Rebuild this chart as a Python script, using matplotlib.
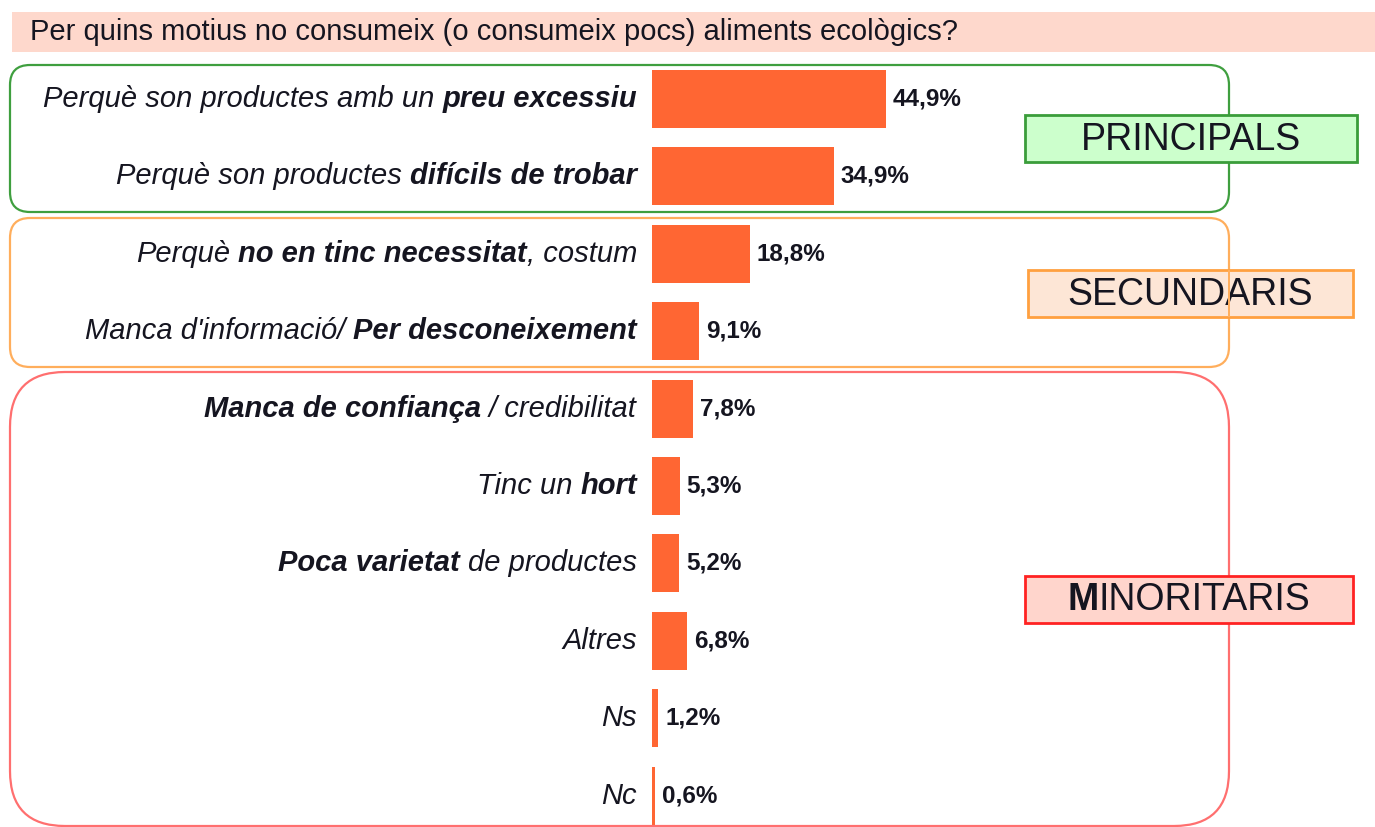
import matplotlib
matplotlib.use("Agg")
import matplotlib.pyplot as plt
from matplotlib.patches import FancyBboxPatch, Rectangle
from matplotlib.transforms import Affine2D

# data
reasons = [
    [("Perquè son productes amb un ", "i"), ("preu excessiu", "b")],
    [("Perquè son productes ", "i"), ("difícils de trobar", "b")],
    [("Perquè ", "i"), ("no en tinc necessitat", "b"), (", costum", "i")],
    [("Manca d'informació/ ", "i"), ("Per desconeixement", "b")],
    [("Manca de confiança", "b"), (" / credibilitat", "i")],
    [("Tinc un ", "i"), ("hort", "b")],
    [("Poca varietat", "b"), (" de productes", "i")],
    [("Altres", "i")],
    [("Ns", "i")],
    [("Nc", "i")],
]
percent = [44.9, 34.9, 18.8, 9.1, 7.8, 5.3, 5.2, 6.8, 1.2, 0.6]
value_labels = ["44,9%", "34,9%", "18,8%", "9,1%", "7,8%", "5,3%", "5,2%", "6,8%", "1,2%", "0,6%"]
title = "Per quins motius no consumeix (o consumeix pocs) aliments ecològics?"
groups = ["PRINCIPALS", "SECUNDARIS", "MINORITARIS"]

W, H = 1375, 827
plt.rcParams["font.family"] = ["Liberation Sans", "DejaVu Sans"]
TXT = "#151520"
BAR = "#ff6633"

fig = plt.figure(figsize=(W / 100, H / 100), dpi=100)
renderer = fig.canvas.get_renderer()
# pixel coords measured from the top-left corner
pix = Affine2D().scale(1, -1).translate(0, H)

# title band
fig.patches.append(Rectangle((12, 12), W - 12, 40, transform=pix, facecolor="#fed8cc",
                             edgecolor="none", zorder=0))
fig.text(30 / W, 1 - 32 / H, title, fontsize=21, color=TXT, va="center", ha="left")

# rounded group frames
frames = [
    ((10, 65, 1219, 147), 20, "#3f9f3f"),
    ((10, 218, 1219, 149), 20, "#ffae5c"),
    ((10, 372, 1219, 454), 55, "#ff6f6f"),
]
for (x, y, w, h), r, col in frames:
    fig.patches.append(FancyBboxPatch((x, y), w, h, boxstyle="round,pad=0,rounding_size=%d" % r,
                                      transform=pix, facecolor="none", edgecolor=col,
                                      linewidth=1.6, zorder=1))

# bars
row0, step = 99, 77.4
ax_top = row0 - step / 2
left, right = 652, 1229
scale = 5.21  # pixels per percent
ax = fig.add_axes([left / W, 0, (right - left) / W, 1 - ax_top / H])
ax.patch.set_alpha(0)
ys = list(range(len(percent)))
ax.barh(ys, percent, height=0.75, color=BAR, zorder=2)
ax.set_xlim(0, (right - left) / scale)
ax.set_ylim(-0.5 + (H - ax_top) / step, -0.5)
ax.axis("off")

for y, v, lab in zip(ys, percent, value_labels):
    ax.annotate(lab, (v, y), xytext=(7, 0), textcoords="offset pixels", va="center",
                ha="left", fontsize=17.5, fontweight="bold", color=TXT)

# category labels, built right to left so bold and italic runs line up
fs = 21
probe1 = fig.text(0, 0, "a a", fontsize=fs, style="italic")
probe2 = fig.text(0, 0, "aa", fontsize=fs, style="italic")
space_w = probe1.get_window_extent(renderer).width - probe2.get_window_extent(renderer).width
probe1.remove()
probe2.remove()

for y, parts in zip(ys, reasons):
    off = -15
    for txt, kind in reversed(parts):
        core = txt.strip()
        trail = len(txt) - len(txt.rstrip())
        lead = len(txt) - len(txt.lstrip())
        off -= trail * space_w
        t = ax.annotate(core, (0, y), xytext=(off, 0), textcoords="offset pixels",
                        ha="right", va="center", fontsize=fs, style="italic",
                        fontweight="bold" if kind == "b" else "normal", color=TXT)
        off -= t.get_window_extent(renderer).width
        off -= lead * space_w

# group tags
tag_boxes = [(1025, 115, 332, 47), (1028, 270, 325, 47), (1025, 576, 328, 47)]
tag_fill = ["#ccffcc", "#fde6d6", "#ffd5cc"]
tag_edge = ["#3a9d3a", "#ffa040", "#ff2222"]
for (x, y, w, h), name, fc, ec in zip(tag_boxes, groups, tag_fill, tag_edge):
    fig.patches.append(Rectangle((x, y), w, h, transform=pix, facecolor=fc, edgecolor=ec,
                                 linewidth=2, zorder=3))
    cx, cy = (x + w / 2) / W, 1 - (y + h / 2 + 1) / H
    if name == "MINORITARIS":
        # first letter in bold
        t1 = fig.text(0, cy, name[0], fontsize=27, fontweight="bold", color=TXT,
                      ha="left", va="center", zorder=4)
        t2 = fig.text(0, cy, name[1:], fontsize=27, color=TXT, ha="left", va="center", zorder=4)
        w1 = t1.get_window_extent(renderer).width
        w2 = t2.get_window_extent(renderer).width
        x0 = (x + w / 2) - (w1 + w2) / 2
        t1.set_x(x0 / W)
        t2.set_x((x0 + w1) / W)
    else:
        fig.text(cx, cy, name, fontsize=27, color=TXT, ha="center", va="center", zorder=4)

# orange frame line shows through the SECUNDARIS tag
fig.patches.append(Rectangle((1228.2, 270), 1.6, 47, transform=pix, facecolor="#ffae5c",
                             edgecolor="none", zorder=5))

plt.savefig("out.png", dpi=100)
plt.close()
